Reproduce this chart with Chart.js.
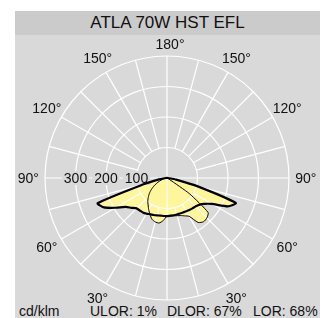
<!DOCTYPE html>
<html>
<head>
<meta charset="utf-8">
<script src="https://cdn.jsdelivr.net/npm/chart.js@4.4.1/dist/chart.umd.min.js"></script>
<style>
  html, body { margin: 0; padding: 0; background: #fff; }
  body { width: 335px; height: 318px; position: relative; overflow: hidden;
         font-family: "Liberation Sans", Arial, sans-serif; color: #111; }
  #panel { position: absolute; left: 15px; top: 11px; width: 305px; height: 307px; background: #d9d9d9; }
  #title { height: 24px; line-height: 24px; background: #cbcbcb; text-align: center; font-size: 17px; }
  .foot { position: absolute; top: 303px; font-size: 14px; line-height: 16px; white-space: nowrap; }
  #chart { position: absolute; left: 0; top: 0; }
</style>
</head>
<body>
<div id="panel"><div id="title">ATLA 70W HST EFL</div></div>
<div class="foot" style="left:19px;">cd/klm</div>
<div class="foot" style="left:90px;">ULOR: 1%</div>
<div class="foot" style="left:167px;">DLOR: 67%</div>
<div class="foot" style="left:253px;">LOR: 68%</div>
<canvas id="chart" width="335" height="318"></canvas>

<script>
/* ── 資料：γ 角（由下方 0° 量起）與各 C 平面光強 cd/klm ───────── */
const GAMMA = [0, 5, 10, 15, 20, 25, 30, 35, 40, 45, 50, 55, 60, 65, 70, 75, 80, 85, 90,
               95, 100, 105, 110, 115, 120, 125, 130, 135, 140, 145, 150, 155, 160, 165, 170, 175, 180];

// C0 / C180 平面（粗線，右 / 左）
const C0   = [125, 124, 124, 124, 124, 125, 126, 128, 130, 132, 137, 148, 170, 220, 240, 100, 30, 9, 3,
              1, 0, 0, 0, 0, 0, 0, 0, 0, 0, 0, 0, 0, 0, 0, 0, 0, 0];
const C180 = [125, 125, 125, 127, 129, 131, 135, 138, 139, 141, 152, 165, 195, 228, 242, 80, 26, 8, 3,
              1, 0, 0, 0, 0, 0, 0, 0, 0, 0, 0, 0, 0, 0, 0, 0, 0, 0];

// C90 / C270 平面（細線，右 / 左）
const C90  = [125, 125, 126, 128, 131, 137, 145, 178, 187, 185, 176, 90, 8, 3, 1, 0, 0, 0, 0,
              0, 0, 0, 0, 0, 0, 0, 0, 0, 0, 0, 0, 0, 0, 0, 0, 0, 0];
const C270 = [127, 140, 150, 149, 144, 132, 120, 108, 98, 86, 74, 60, 46, 33, 21, 12, 6, 2, 1,
              0, 0, 0, 0, 0, 0, 0, 0, 0, 0, 0, 0, 0, 0, 0, 0, 0, 0];

const RINGS       = [100, 200, 300, 400];
const RING_LABELS = [100, 200, 300];
const ANGLE_TICKS = [180, 150, 120, 90, 60, 30];

const PANEL_BG = '#d9d9d9';
const FILL     = '#fff59c';
const FONT     = '14px "Liberation Sans", Arial, sans-serif';

/* 雷達圖索引由正上方順時針每 5°：右半 γ=180→0，左半 γ=5→175 */
const labels = [...GAMMA.slice().reverse(), ...GAMMA.slice(1, -1)];
function plane(right, left) {
  return [...right.slice().reverse(), ...left.slice(1, -1)];
}
function idxRight(g) { return (180 - g) / 5; }
function idxLeft(g)  { return (180 + g) / 5; }

/* ── 極座標格線、刻度與角度標籤（畫在填色之上、外框之下） ──── */
const polarGrid = {
  id: 'polarGrid',
  afterDatasetDraw(chart, args) {
    if (args.index !== 2) return;
    const r = chart.scales.r;
    const ctx = chart.ctx;
    ctx.save();
    ctx.strokeStyle = '#fff';
    ctx.lineWidth = 1.2;

    RINGS.forEach(v => {
      ctx.beginPath();
      ctx.arc(r.xCenter, r.yCenter, r.getDistanceFromCenterForValue(v), 0, Math.PI * 2);
      ctx.stroke();
    });

    for (let i = 0; i < labels.length; i += 3) {
      const from = (i % 18 === 0) ? 0 : RINGS[0];
      const a = r.getPointPositionForValue(i, from);
      const b = r.getPointPositionForValue(i, RINGS[RINGS.length - 1]);
      ctx.beginPath();
      ctx.moveTo(a.x, a.y);
      ctx.lineTo(b.x, b.y);
      ctx.stroke();
    }

    ctx.font = FONT;
    ctx.textAlign = 'center';
    ctx.textBaseline = 'middle';

    // 數值刻度沿左側 90° 方向
    RING_LABELS.forEach(v => {
      const p = r.getPointPositionForValue(idxLeft(90), v);
      const w = ctx.measureText(String(v)).width;
      ctx.fillStyle = PANEL_BG;
      ctx.fillRect(p.x - w / 2 - 2, p.y - 7, w + 4, 14);
      ctx.fillStyle = '#111';
      ctx.fillText(String(v), p.x, p.y + 1);
    });

    // 角度標籤
    ctx.fillStyle = '#111';
    ANGLE_TICKS.forEach(g => {
      const dist = g === 180 ? 440 : 455;
      const sides = g === 180 ? [idxRight(g)] : [idxRight(g), idxLeft(g)];
      sides.forEach(i => {
        const p = r.getPointPositionForValue(i, dist);
        ctx.fillText(g + '°', p.x + (g === 180 ? 3 : 0), p.y + 1);
      });
    });
    ctx.restore();
  }
};

const plane0 = plane(C0, C180);
const plane90 = plane(C90, C270);

new Chart(document.getElementById('chart'), {
  type: 'radar',
  data: {
    labels,
    datasets: [
      { data: plane0,  borderColor: '#000', borderWidth: 2.2, fill: false },
      { data: plane90, borderColor: '#000', borderWidth: 1,   fill: false },
      { data: plane0,  borderColor: 'transparent', borderWidth: 0, backgroundColor: FILL, fill: true },
      { data: plane90, borderColor: 'transparent', borderWidth: 0, backgroundColor: FILL, fill: true }
    ]
  },
  options: {
    responsive: false,
    animation: false,
    layout: { padding: { left: 45, right: 46, top: 56, bottom: 18 } },
    elements: {
      point: { radius: 0, hoverRadius: 0 },
      line: { tension: 0.2, borderJoinStyle: 'round' }
    },
    plugins: { legend: { display: false }, tooltip: { enabled: false } },
    scales: {
      r: {
        min: 0,
        max: 400,
        startAngle: 0,
        ticks: { display: false, stepSize: 100 },
        grid: { display: false, circular: true },
        angleLines: { display: false },
        pointLabels: { display: false }
      }
    }
  },
  plugins: [polarGrid]
});
</script>
</body>
</html>
